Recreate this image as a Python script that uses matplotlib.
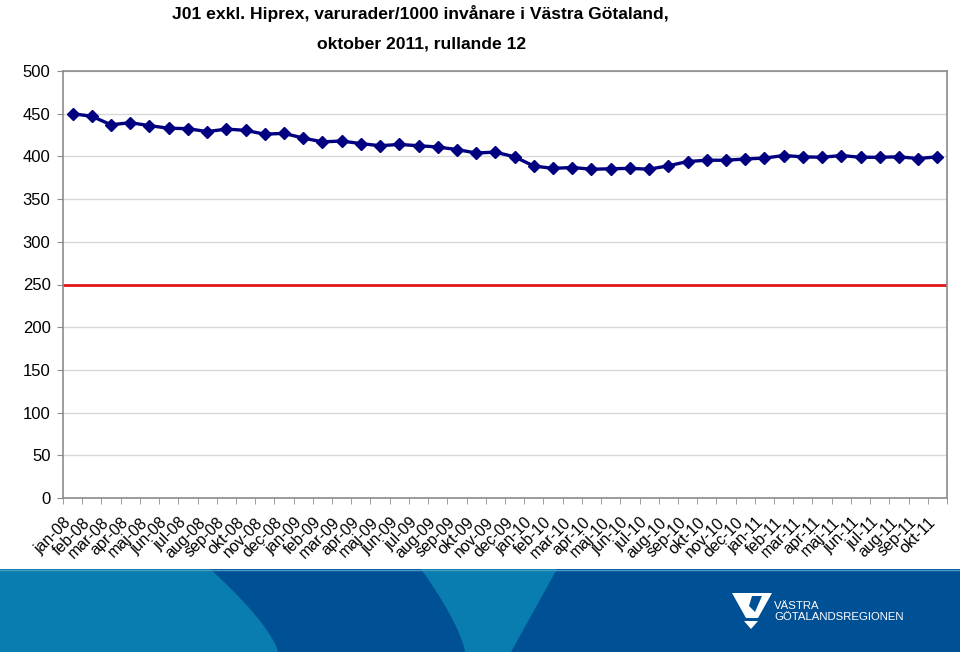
import matplotlib
matplotlib.use("Agg")
import matplotlib.pyplot as plt
import matplotlib.transforms as mtransforms
from matplotlib.patches import Polygon, Rectangle
from matplotlib import font_manager
import numpy as np

months = ["jan-08", "feb-08", "mar-08", "apr-08", "maj-08", "jun-08", "jul-08", "aug-08",
          "sep-08", "okt-08", "nov-08", "dec-08",
          "jan-09", "feb-09", "mar-09", "apr-09", "maj-09", "jun-09", "jul-09", "aug-09",
          "sep-09", "okt-09", "nov-09", "dec-09",
          "jan-10", "feb-10", "mar-10", "apr-10", "maj-10", "jun-10", "jul-10", "aug-10",
          "sep-10", "okt-10", "nov-10", "dec-10",
          "jan-11", "feb-11", "mar-11", "apr-11", "maj-11", "jun-11", "jul-11", "aug-11",
          "sep-11", "okt-11"]
values = [450, 447, 437, 439.5, 436, 433, 432.5, 429, 432, 430.5, 426, 427,
          421.5, 417, 418, 415, 412.5, 414, 412.5, 411, 408, 404, 405, 399.5,
          388.7, 386, 387, 385, 385.5, 386, 385, 389, 394, 395.5, 395.5, 397,
          398, 401, 399.5, 399, 401, 399, 399, 399.5, 397.5, 399.5]
target = 250
yticks = [0, 50, 100, 150, 200, 250, 300, 350, 400, 450, 500]
title_lines = ["J01 exkl. Hiprex, varurader/1000 invånare i Västra Götaland,",
               "oktober 2011, rullande 12"]
logo_lines = ["VÄSTRA", "GÖTALANDSREGIONEN"]

names = {f.name for f in font_manager.fontManager.ttflist}
base_font = "Liberation Sans" if "Liberation Sans" in names else "DejaVu Sans"
plt.rcParams["font.family"] = [base_font, "DejaVu Sans"]

W, H = 960, 654
fig = plt.figure(figsize=(W / 100, H / 100), dpi=100)
fig.patch.set_facecolor("white")

L, R, T, B = 63, 947, 71, 498
ax = fig.add_axes([L / W, 1 - B / H, (R - L) / W, (B - T) / H])
x = np.arange(len(months))
ax.set_xlim(-0.5, len(months) - 0.5)
ax.set_ylim(0, 500)
ax.set_yticks(yticks)
ax.yaxis.grid(True, color="#d8d8d8", linewidth=1.0)
ax.set_axisbelow(True)
for s in ax.spines.values():
    s.set_color("#8c8c8c")
    s.set_linewidth(1.2)

ax.axhline(target, color="#e3161b", linewidth=2.0, zorder=2)
ax.plot(x, values, color="#000080", linewidth=2.4, marker="D", markersize=6.5,
        markeredgecolor="#000080", markerfacecolor="#000080", zorder=3)

ax.tick_params(axis="y", direction="out", length=4, color="#8c8c8c", labelsize=12, pad=5)
ax.set_xticks(x)
ax.set_xticks(np.arange(len(months) + 1) - 0.5, minor=True)
ax.tick_params(axis="x", which="major", length=0, pad=16, labelsize=11.5)
ax.tick_params(axis="x", which="minor", direction="out", length=4, color="#8c8c8c")
ax.set_xticklabels(months, rotation=45, ha="right", va="center", rotation_mode="anchor")
off = mtransforms.ScaledTranslation(-4 / 100, 0, fig.dpi_scale_trans)
for lab in ax.get_xticklabels():
    lab.set_transform(lab.get_transform() + off)

fig.text(420 / W, 1 - 13 / H, title_lines[0], ha="center", va="center",
         fontsize=12.6, fontweight="bold")
fig.text(422 / W, 1 - 44 / H, title_lines[1], ha="center", va="center",
         fontsize=12.6, fontweight="bold")

# footer band
fx = fig.add_axes([0, 0, 1, 1], zorder=5)
fx.set_xlim(0, W)
fx.set_ylim(H, 0)
fx.axis("off")
fx.patch.set_visible(False)
top, bot = 569, 652
light = "#0a7db0"
dark = "#005096"
fx.add_patch(Rectangle((0, top), W, bot - top, facecolor=dark, edgecolor="none"))
t = np.linspace(0, 1, 30)
curve1 = [(210 + 68 * (1 - (1 - tt) ** 1.35), top + (bot - top) * tt) for tt in t]
fx.add_patch(Polygon([(0, top)] + curve1 + [(0, bot)], facecolor=light, edgecolor="none"))
curve2 = [(421 + 44 * (1 - (1 - tt) ** 1.35), top + (bot - top) * tt) for tt in t]
fx.add_patch(Polygon(curve2 + [(511, bot), (557, top)], facecolor=light, edgecolor="none"))
fx.plot([0, W], [top + 0.5, top + 0.5], color="#4a9ac8", linewidth=1.0)

# logo
fx.add_patch(Polygon([(732, 593), (772, 593), (758, 618), (746, 618)], facecolor="white", edgecolor="none"))
fx.add_patch(Polygon([(744, 621), (758, 621), (751, 629)], facecolor="white", edgecolor="none"))
fx.add_patch(Polygon([(752, 596), (762, 596), (755, 612), (749, 606)], facecolor=dark, edgecolor="none"))
fx.text(774, 606, logo_lines[0], color="white", fontsize=8.2, ha="left", va="center")
fx.text(774, 616.5, logo_lines[1], color="white", fontsize=8.2, ha="left", va="center")

fig.savefig("out.png", dpi=100, facecolor="white")
